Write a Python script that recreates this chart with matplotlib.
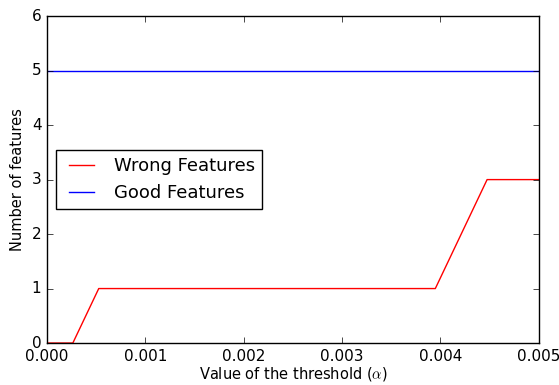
import numpy as np
import matplotlib.pyplot as plt

plt.style.use('classic')

# threshold grid and feature counts
thresholds = np.linspace(0, 0.005, 20)
wrong_features = [0, 0, 1, 1, 1, 1, 1, 1, 1, 1, 1, 1, 1, 1, 1, 1, 2, 3, 3, 3]
good_features = [5] * 20

fig = plt.figure(figsize=(5.59, 3.85), dpi=100)
ax = fig.add_axes([0.084, 0.109, 0.88, 0.849])

ax.plot(thresholds, wrong_features, color='red', label='Wrong Features')
ax.plot(thresholds, good_features, color='blue', label='Good Features')

ax.set_xlim(0, 0.005)
ax.set_ylim(0, 6)
ax.tick_params(labelsize=11)
ax.set_xlabel(r'Value of the threshold ($\alpha$)', fontsize=10.5, labelpad=1)
ax.set_ylabel('Number of features', fontsize=10.5)
ax.legend(loc='center left', fontsize=13)

plt.savefig('out.png', dpi=100)
